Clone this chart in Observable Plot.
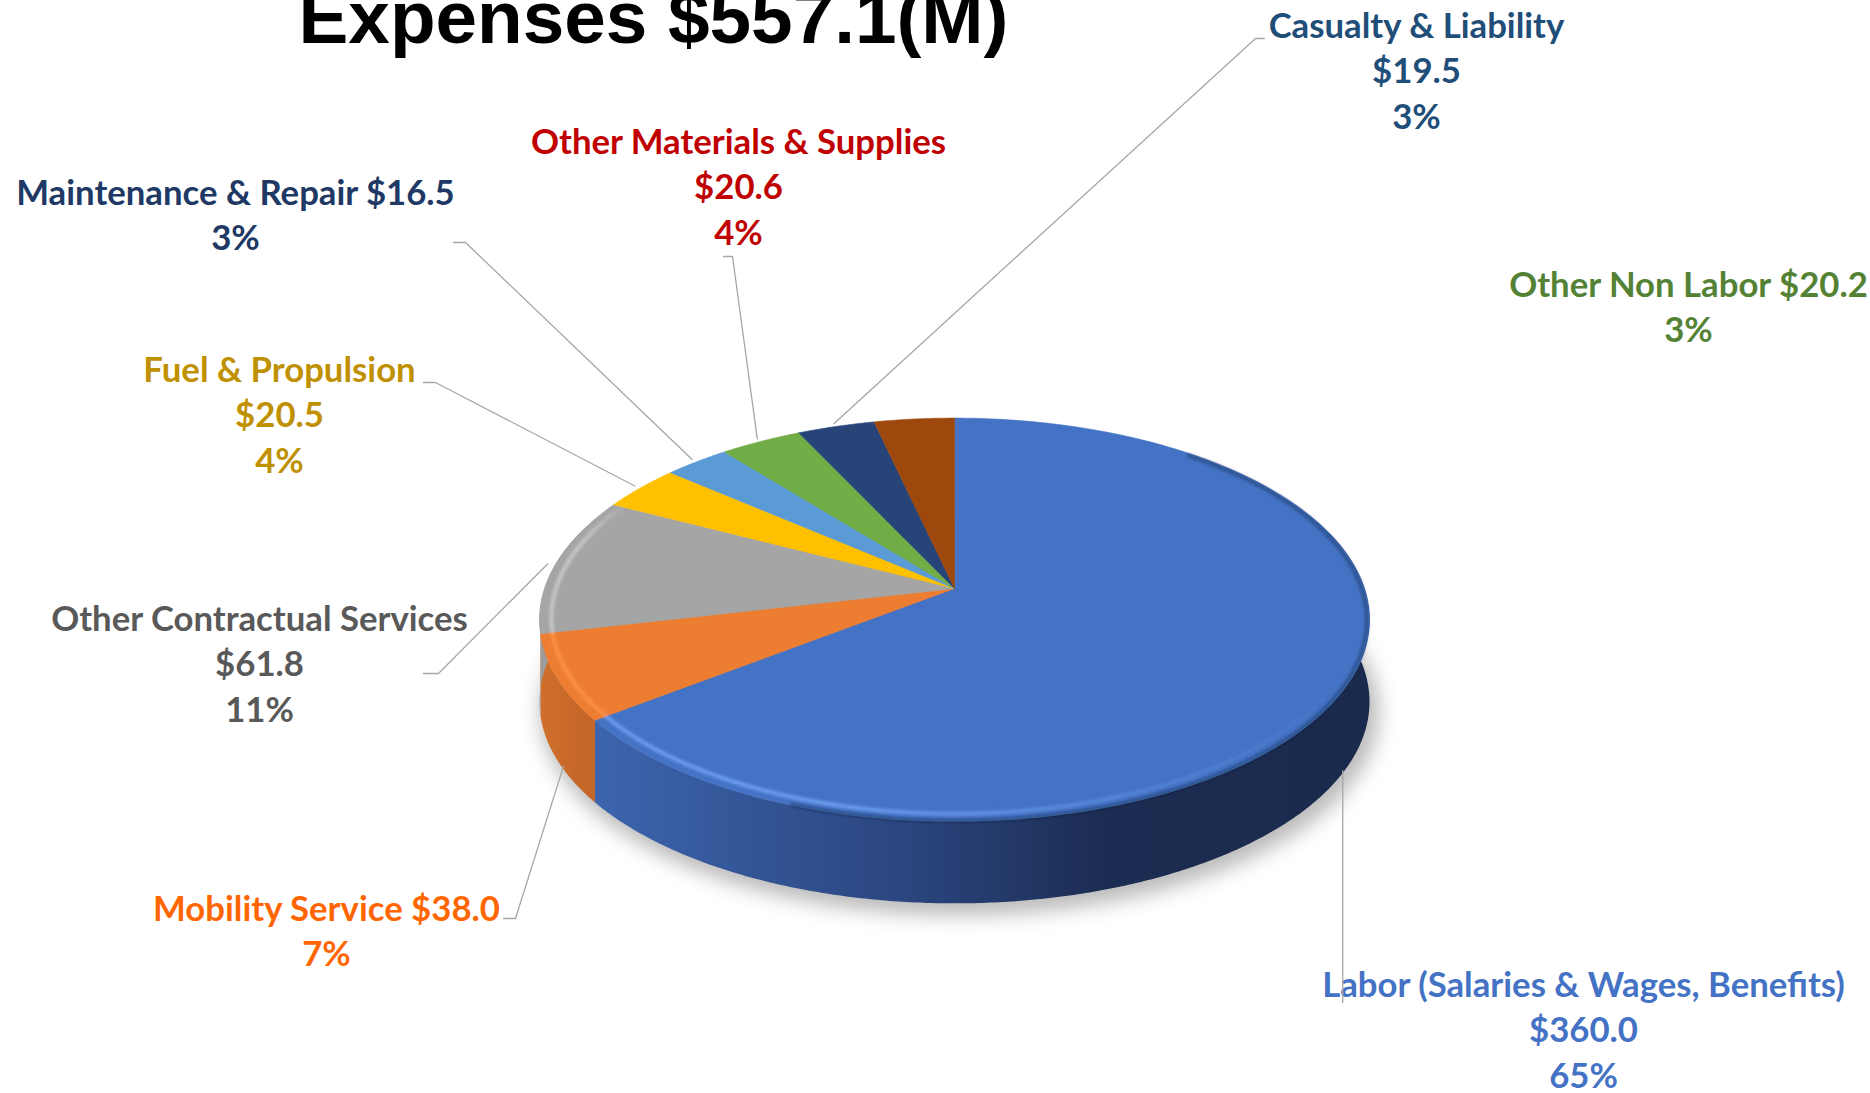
<!DOCTYPE html>
<html>
<head>
<meta charset="utf-8">
<script src="https://cdn.jsdelivr.net/npm/d3@7"></script>
<script src="https://cdn.jsdelivr.net/npm/@observablehq/plot@0.6"></script>
<style>
  html, body { margin: 0; padding: 0; background: #ffffff; overflow: hidden; }
  #chart { width: 1870px; height: 1093px; }
</style>
</head>
<body>
<div id="chart"></div>
<script>
// ---------------- data ----------------
const titleText = "Expenses $557.1(M)";
const categories = [
  "Labor (Salaries & Wages, Benefits)",
  "Mobility Service",
  "Other Contractual Services",
  "Fuel & Propulsion",
  "Maintenance & Repair",
  "Other Materials & Supplies",
  "Casualty & Liability",
  "Other Non Labor"
];
const values = [360.0, 38.0, 61.8, 20.5, 16.5, 20.6, 19.5, 20.2];
const percentLabels = ["65%", "7%", "11%", "4%", "3%", "4%", "3%", "3%"];

// ---------------- styles ----------------
const sliceColors = ["#4472C4", "#ED7D31", "#A5A5A5", "#FFC000", "#5B9BD5", "#70AD47", "#264478", "#9E480E"];
const wallColors  = ["url(#wall-labor)", "url(#wall-mob)", "#9C9C9C", "#D9A400", "#4D84B8", "#5E9438", "#1E3760", "#843C0C"];
const bevelColors = ["#74A4F6", "#FF9446", "#CDCDCD", "#FFD75A", "#8CBCEB", "#98CF6E", "#4A6CA8", "#C26A2E"];
const labelColors = ["#4472C4", "#FF6600", "#595959", "#BF9000", "#203864", "#C00000", "#1F4E79", "#548235"];

// ---------------- layout ----------------
const W = 1870, H = 1093;
const G = {ax: 954, ay: 588, R: 410, sinT: 0.48, cosT: 0.877, dist: 2322, wall: 82};
const labelMode = ["stack", "inline", "stack", "stack", "inline", "stack", "stack", "inline"];
const labelPos = [[1583, 985], [326, 909], [259, 619], [279, 370], [235, 193], [738, 142], [1416, 26], [1688, 285]];
const lineGap = 45.7;
// leader end points (label side) and elbow offset toward the pie
const leaderEnds = [{vertical: 1002}, {x: 503, y: 918, dx: 12}, {x: 423, y: 673, dx: 15}, {x: 423, y: 382, dx: 12},
                    {x: 453, y: 242, dx: 12}, {x: 723, y: 256, dx: 9}, {x: 1264, y: 38, dx: -9}, null];
const titlePos = {x: 653, baseline: 42, width: 710};
const fitTargets = [["Labor (Salaries & Wages, Benefits)", 528], ["Other Non Labor $20.2", 351],
  ["Maintenance & Repair $16.5", 442], ["Other Materials & Supplies", 420], ["Other Contractual Services", 411],
  ["Mobility Service $38.0", 342], ["Casualty & Liability", 296], ["Fuel & Propulsion", 273]];

// font fitting
const cv = document.createElement("canvas").getContext("2d");
cv.font = "bold 100px Lato";
const labelSize = d3.median(fitTargets.map(([t, w]) => w / cv.measureText(t).width * 100));
cv.font = "bold 100px 'Liberation Sans'";
const titleSize = titlePos.width / cv.measureText(titleText).width * 100;

// ---------------- geometry ----------------
const deg = Math.PI / 180;
function proj(phi, rf = 1, dy = 0) {
  const X = G.R * rf * Math.sin(phi), C = G.R * rf * Math.cos(phi);
  const s = G.dist / (G.dist + C * G.cosT);
  return {x: G.ax + X * s, y: G.ay - C * G.sinT * s + dy};
}
function arcPts(a0, a1, rf, dy) {
  const n = Math.max(2, Math.ceil(Math.abs(a1 - a0) / (Math.PI / 360)));
  return d3.range(n + 1).map(i => proj(a0 + (a1 - a0) * i / n, rf, dy));
}
const arcs = d3.pie().sort(null).value(d => d)(values);

const shadowRows = arcPts(0, 2 * Math.PI, 1.01, G.wall + 9).map(p => ({x: p.x + 5, y: p.y}));

const frontLo = Math.PI / 2 - 0.3, frontHi = 1.5 * Math.PI + 0.3;
const wallRows = arcs.flatMap((a, i) => {
  const a0 = Math.max(a.startAngle, frontLo), a1 = Math.min(a.endAngle, frontHi);
  if (a1 <= a0) return [];
  const top = arcPts(a0, a1, 1, 0), bot = arcPts(a0, a1, 1, G.wall).reverse();
  return [...top, ...bot].map(p => ({...p, id: i, fill: wallColors[i]}));
});

const topRows = arcs.flatMap((a, i) =>
  [{x: G.ax, y: G.ay}, ...arcPts(a.startAngle, a.endAngle, 1, 0), {x: G.ax, y: G.ay}]
    .map(p => ({...p, id: i, fill: sliceColors[i]})));

// bevel highlight: short segments whose opacity ramps along the front rim
const bevelOpacity = d3.scaleLinear().domain([115, 155, 195, 285, 300]).range([0, 0.3, 0.85, 0.85, 0]).clamp(true);
const segStep = 3 * deg;
const bevelRows = arcs.flatMap((a, i) => {
  const a0 = Math.max(a.startAngle, 115 * deg), a1 = Math.min(a.endAngle, 300 * deg);
  if (a1 <= a0) return [];
  const n = Math.ceil((a1 - a0) / segStep);
  return d3.range(n).flatMap(k => {
    const b0 = a0 + (a1 - a0) * k / n, b1 = a0 + (a1 - a0) * (k + 1) / n;
    const op = bevelOpacity(((b0 + b1) / 2) / deg);
    return arcPts(b0, b1, 0.972, 0).map(p => ({...p, id: i * 1000 + k, stroke: bevelColors[i], op}));
  });
});

const rimShadeRows = arcs.flatMap((a, i) => {
  const a0 = Math.max(a.startAngle, 40 * deg), a1 = Math.min(a.endAngle, 200 * deg);
  if (a1 <= a0) return [];
  return arcPts(a0, a1, 0.994, 1).map(p => ({...p, id: i}));
});

const leaderRows = arcs.flatMap((a, i) => {
  const e = leaderEnds[i];
  if (!e) return [];
  const mid = (a.startAngle + a.endAngle) / 2;
  const front = Math.cos(mid) < -0.2;
  const anc = front ? proj(mid, 0.985, G.wall + 8) : proj(mid, 1.02, 0);
  const pts = e.vertical != null
    ? [anc, {x: anc.x, y: e.vertical}]
    : [anc, {x: e.x + e.dx, y: e.y}, {x: e.x, y: e.y}];
  return pts.map(p => ({...p, id: i}));
});

const labelRows = categories.flatMap((c, i) => {
  const v = "$" + d3.format(".1f")(values[i]);
  const lines = labelMode[i] === "stack" ? [c, v, percentLabels[i]] : [c + " " + v, percentLabels[i]];
  return lines.map((t, k) => ({text: t, x: labelPos[i][0], y: labelPos[i][1] + k * lineGap, fill: labelColors[i]}));
});

const titleRows = [{text: titleText, x: titlePos.x, y: titlePos.baseline - 0.32 * titleSize}];

// ---------------- plot ----------------
const plot = Plot.plot({
  width: W, height: H, margin: 0,
  x: {type: "linear", domain: [0, W], range: [0, W], axis: null},
  y: {type: "linear", domain: [0, H], range: [0, H], axis: null},
  color: {type: "identity"},
  opacity: {type: "identity"},
  style: {background: "#ffffff", overflow: "visible"},
  marks: [
    Plot.line(shadowRows, {x: "x", y: "y", fill: "#000000", fillOpacity: 0.27, stroke: "none"}),
    Plot.line(wallRows, {x: "x", y: "y", z: "id", fill: "fill", stroke: "none"}),
    Plot.line(topRows, {x: "x", y: "y", z: "id", fill: "fill", stroke: "fill", strokeWidth: 0.6}),
    Plot.line(rimShadeRows, {x: "x", y: "y", z: "id", stroke: "#0b1730", strokeWidth: 3.5, strokeOpacity: 0.4}),
    Plot.line(bevelRows, {x: "x", y: "y", z: "id", stroke: "stroke", strokeWidth: 4, strokeOpacity: "op", strokeLinecap: "butt"}),
    Plot.text(labelRows, {x: "x", y: "y", text: "text", fill: "fill", fontSize: labelSize, fontWeight: "bold",
      fontFamily: "Lato, 'Open Sans', sans-serif", textAnchor: "middle", lineAnchor: "middle"}),
    Plot.line(leaderRows, {x: "x", y: "y", z: "id", stroke: "#A6A6A6", strokeWidth: 1.3}),
    Plot.text(titleRows, {x: "x", y: "y", text: "text", fill: "#000000", fontSize: titleSize, fontWeight: "bold",
      fontFamily: "'Liberation Sans', Arial, sans-serif", textAnchor: "middle", lineAnchor: "middle"})
  ]
});

const svg = d3.select(plot);
const markGroups = svg.selectAll(":scope > g").nodes();
const defs = svg.insert("defs", ":first-child");
const gl = defs.append("linearGradient").attr("id", "wall-labor").attr("gradientUnits", "userSpaceOnUse")
  .attr("x1", 585).attr("y1", 0).attr("x2", 1370).attr("y2", 0);
[[0, "#3D66AF"], [0.4, "#2B4680"], [0.66, "#1C2D53"], [1, "#1A2A4C"]].forEach(([o, c]) =>
  gl.append("stop").attr("offset", o).attr("stop-color", c));
const gm = defs.append("linearGradient").attr("id", "wall-mob").attr("gradientUnits", "userSpaceOnUse")
  .attr("x1", 535).attr("y1", 0).attr("x2", 600).attr("y2", 0);
[[0, "#D0702C"], [1, "#C26427"]].forEach(([o, c]) => gm.append("stop").attr("offset", o).attr("stop-color", c));
defs.append("filter").attr("id", "soft").attr("x", "-20%").attr("y", "-20%").attr("width", "140%").attr("height", "140%")
  .append("feGaussianBlur").attr("stdDeviation", 10);
defs.append("filter").attr("id", "glow").attr("x", "-10%").attr("y", "-10%").attr("width", "120%").attr("height", "120%")
  .append("feGaussianBlur").attr("stdDeviation", 1.8);
if (markGroups.length >= 5) {
  markGroups[0].setAttribute("filter", "url(#soft)");
  markGroups[3].setAttribute("filter", "url(#glow)");
  markGroups[4].setAttribute("filter", "url(#glow)");
}

document.getElementById("chart").appendChild(plot);
</script>
</body>
</html>
